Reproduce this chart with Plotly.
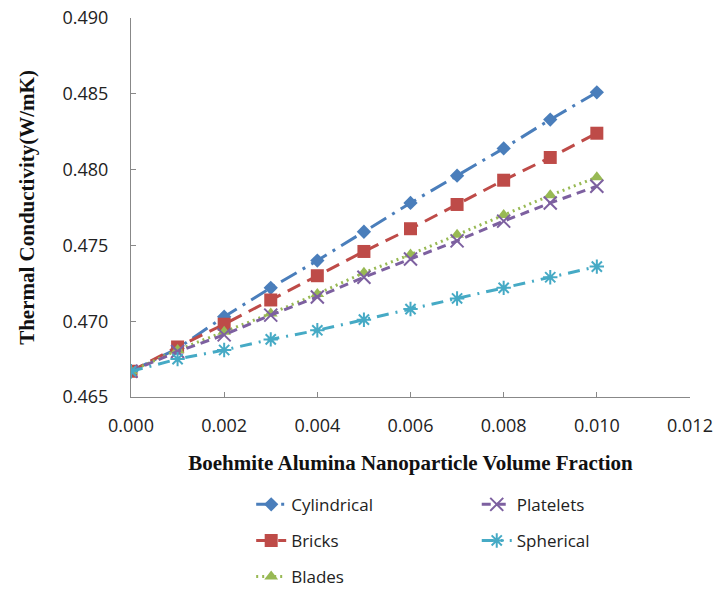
import plotly.graph_objects as go

x_vals = [0.000, 0.001, 0.002, 0.003, 0.004, 0.005, 0.006, 0.007, 0.008, 0.009, 0.010]
cylindrical = [0.4667, 0.4682, 0.4703, 0.4722, 0.4740, 0.4759, 0.4778, 0.4796, 0.4814, 0.4833, 0.4851]
bricks = [0.4667, 0.4683, 0.4698, 0.4714, 0.4730, 0.4746, 0.4761, 0.4777, 0.4793, 0.4808, 0.4824]
blades = [0.4667, 0.4681, 0.4693, 0.4705, 0.4718, 0.4732, 0.4744, 0.4757, 0.4770, 0.4783, 0.4795]
platelets = [0.4667, 0.4680, 0.4691, 0.4704, 0.4716, 0.4729, 0.4741, 0.4753, 0.4766, 0.4778, 0.4789]
spherical = [0.4667, 0.4675, 0.4681, 0.4688, 0.4694, 0.4701, 0.4708, 0.4715, 0.4722, 0.4729, 0.4736]

font_tick = "'Open Sans', Lato, sans-serif"
font_title = "'Liberation Serif', 'Times New Roman', serif"

series = [
    ("Cylindrical", cylindrical, "#4a7ebb", "18px,7px,3px,7px", "diamond", 11, "legend"),
    ("Bricks", bricks, "#be4b48", "14px,8px", "square", 13, "legend"),
    ("Blades", blades, "#98b954", "2px,4px", "triangle-up", 12, "legend"),
    ("Platelets", platelets, "#7d60a0", "9px,6px", "x-thin-open", 13, "legend2"),
    ("Spherical", spherical, "#46aac5", "12px,7px,2px,7px", "asterisk-open", 12, "legend2"),
]

fig = go.Figure()
for name, vals, color, dash, sym, size, lg in series:
    fig.add_trace(go.Scatter(
        x=x_vals, y=vals, name=name, mode="lines+markers",
        line=dict(color=color, width=3, dash=dash),
        marker=dict(symbol=sym, size=size, color=color,
                    line=dict(color=color, width=2 if "open" in sym else 0)),
        legend=lg, legendgroup=name,
    ))

legend_font = dict(family=font_tick, size=17, color="#222")
fig.update_layout(
    width=718, height=589,
    margin=dict(l=131, r=28, t=18, b=192, autoexpand=False),
    plot_bgcolor="white", paper_bgcolor="white",
    showlegend=True,
    legend=dict(x=0.215, y=-0.237, xanchor="left", yanchor="top",
                orientation="v", tracegroupgap=11, font=legend_font,
                bgcolor="rgba(0,0,0,0)"),
    legend2=dict(x=0.6185, y=-0.237, xanchor="left", yanchor="top",
                 orientation="v", tracegroupgap=11, font=legend_font,
                 bgcolor="rgba(0,0,0,0)"),
)

fig.update_xaxes(
    range=[0, 0.012], dtick=0.002, tick0=0, tickformat=".3f",
    showgrid=False, zeroline=False, showline=True, linecolor="#888", linewidth=1,
    ticks="inside", ticklen=5, tickcolor="#888", ticklabelstandoff=12,
    tickfont=dict(family=font_tick, size=18, color="#222"),
    title=dict(text="Boehmite Alumina Nanoparticle Volume Fraction",
               font=dict(family=font_title, size=21, color="#111", weight="bold"),
               standoff=19),
)
fig.update_yaxes(
    range=[0.465, 0.490], dtick=0.005, tick0=0.465, tickformat=".3f",
    showgrid=False, zeroline=False, showline=True, linecolor="#888", linewidth=1,
    ticks="inside", ticklen=5, tickcolor="#888", ticklabelstandoff=18,
    tickfont=dict(family=font_tick, size=18, color="#222"),
    title=dict(text="Thermal Conductivity(W/mK)",
               font=dict(family=font_title, size=21, color="#111", weight="bold"),
               standoff=22),
)

fig.write_html("out.html", config={"displayModeBar": False},
               post_script="document.body.style.margin='0';")
